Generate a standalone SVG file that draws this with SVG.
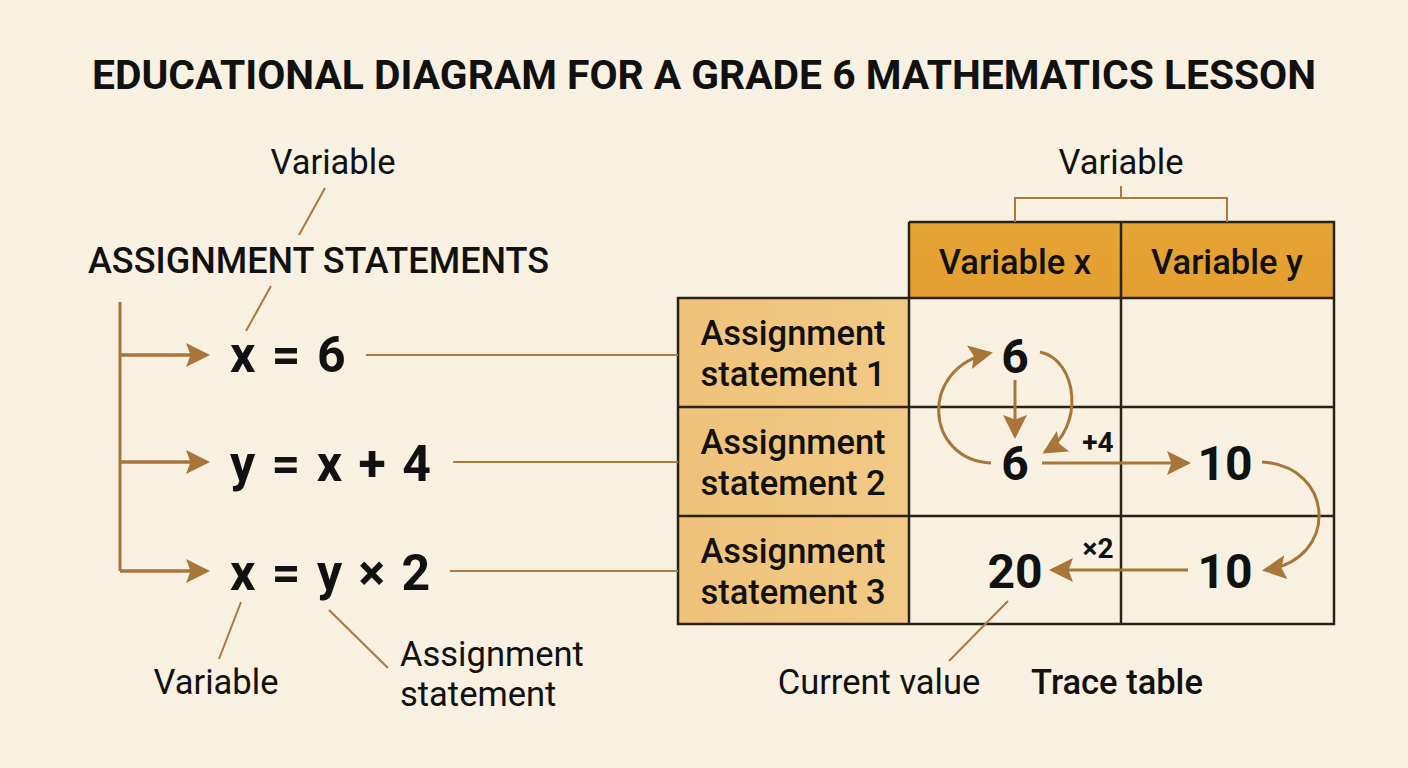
<svg xmlns="http://www.w3.org/2000/svg" width="1408" height="768" viewBox="0 0 1408 768">
<defs>
<style>
text{font-family:Roboto,"Liberation Sans",sans-serif;fill:#111}
.title{font-size:40px;font-weight:700;text-anchor:middle}
.lbl{font-size:34.5px;font-weight:400}
.hdr{font-size:34.5px;font-weight:500;text-anchor:middle}
.cell{font-size:34.5px;font-weight:500;text-anchor:middle}
.eq{font-size:50px;font-weight:700;word-spacing:4px}
.num{font-size:48px;font-weight:700;text-anchor:middle}
.op{font-size:28px;font-weight:700;text-anchor:middle}
.lead{stroke:#A97A3C;stroke-width:2;fill:none}
.flow{stroke:#A8763A;stroke-width:3;fill:none}
.grid{stroke:#2A2216;stroke-width:2.5;fill:none}
</style>
<marker id="ah" markerWidth="8" markerHeight="8" refX="7" refY="4" orient="auto" markerUnits="strokeWidth">
<path d="M0,0 L8,4 L0,8 L1.5,4 Z" fill="#A8763A"/>
</marker>
<linearGradient id="side" x1="0" y1="0" x2="1" y2="0">
<stop offset="0" stop-color="#EFC27A"/>
<stop offset="1" stop-color="#F2CA86"/>
</linearGradient>
<linearGradient id="head" x1="0" y1="0" x2="0" y2="1">
<stop offset="0" stop-color="#E6A535"/>
<stop offset="1" stop-color="#E39E2F"/>
</linearGradient>
</defs>
<rect width="1408" height="768" fill="#F8F0E0"/>

<g id="title">
<text class="title" x="704" y="89" textLength="1224" lengthAdjust="spacingAndGlyphs">EDUCATIONAL DIAGRAM FOR A GRADE 6 MATHEMATICS LESSON</text>
</g>

<g id="assignment-list">
<text class="lbl" x="333" y="174" text-anchor="middle" id="var-top">Variable</text>
<text class="lbl" x="88" y="273" style="font-size:36px;font-weight:500">ASSIGNMENT STATEMENTS</text>
<text class="eq" x="230" y="372">x = 6</text>
<text class="eq" x="230" y="481">y = x + 4</text>
<text class="eq" x="230" y="590">x = y × 2</text>
<text class="lbl" x="216" y="694" text-anchor="middle">Variable</text>
<text class="lbl" x="400" y="666">Assignment</text>
<text class="lbl" x="400" y="706">statement</text>
</g>

<g id="trace-table">
<rect x="909" y="222" width="425" height="76" fill="url(#head)"/>
<rect x="678" y="298" width="231" height="326" fill="url(#side)"/>
<path class="grid" d="M909,222 H1334 V624 H678 V298 H1334 M909,222 V624 M1121,222 V624 M678,407 H1334 M678,516 H1334"/>
<text class="hdr" x="1015" y="274">Variable x</text>
<text class="hdr" x="1227" y="274">Variable y</text>
<text class="cell" x="793" y="345">Assignment</text>
<text class="cell" x="793" y="386">statement 1</text>
<text class="cell" x="793" y="454">Assignment</text>
<text class="cell" x="793" y="495">statement 2</text>
<text class="cell" x="793" y="563">Assignment</text>
<text class="cell" x="793" y="604">statement 3</text>
<text class="num" x="1015" y="373">6</text>
<text class="num" x="1015" y="480">6</text>
<text class="num" x="1225" y="480">10</text>
<text class="num" x="1015" y="588">20</text>
<text class="num" x="1225" y="588">10</text>
<text class="op" x="1098" y="452">+4</text>
<text class="op" x="1098" y="558">×2</text>
<text class="lbl" x="1121" y="174" text-anchor="middle">Variable</text>
<text class="lbl" x="879" y="694" text-anchor="middle">Current value</text>
<text class="lbl" x="1117" y="694" text-anchor="middle" style="font-weight:500">Trace table</text>
</g>

<g id="connectors">
<line class="lead" x1="325" y1="188" x2="299" y2="235"/>
<line class="lead" x1="271" y1="286" x2="246" y2="331"/>
<line class="lead" x1="241" y1="602" x2="219" y2="659"/>
<line class="lead" x1="329" y1="610" x2="388" y2="668"/>
<line class="lead" x1="366" y1="355" x2="678" y2="355"/>
<line class="lead" x1="453" y1="462" x2="678" y2="462"/>
<line class="lead" x1="450" y1="571" x2="678" y2="571"/>
<line class="lead" x1="1008" y1="601" x2="949" y2="661"/>
<path class="lead" d="M1121,186 V198 M1015,222 V198 H1227 V222"/>
<path class="flow" d="M120,302 V571 M120,355 H206 M120,462 H206 M120,571 H206"/>
<path class="flow" marker-end="url(#ah)" d="M120,355 H207"/>
<path class="flow" marker-end="url(#ah)" d="M120,462 H207"/>
<path class="flow" marker-end="url(#ah)" d="M120,571 H207"/>
<path class="flow" marker-end="url(#ah)" d="M1015,380 V436"/>
<path class="flow" marker-end="url(#ah)" d="M991,463 C925,460 918,368 990,353"/>
<path class="flow" marker-end="url(#ah)" d="M1040,352 C1078,360 1085,428 1045,452"/>
<path class="flow" marker-end="url(#ah)" d="M1042,463 H1188"/>
<path class="flow" marker-end="url(#ah)" d="M1262,462 C1335,466 1340,560 1265,570"/>
<path class="flow" marker-end="url(#ah)" d="M1188,570 H1052"/>
</g>
</svg>
